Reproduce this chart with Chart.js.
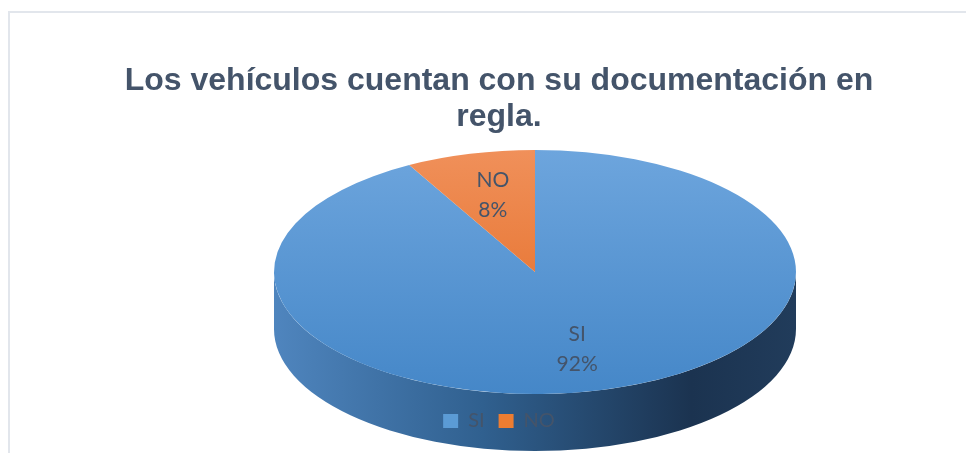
<!DOCTYPE html>
<html>
<head>
<meta charset="utf-8">
<script src="https://cdn.jsdelivr.net/npm/chart.js@4.4.1/dist/chart.umd.min.js"></script>
<style>
  html, body { margin: 0; background: #fff; }
  #frame { position: absolute; left: 8px; top: 11px; width: 958px; height: 460px;
           border-left: 2px solid #e2e6ec; border-top: 2px solid #e2e6ec; box-sizing: border-box; }
  canvas { position: absolute; left: 0; top: 0; }
</style>
</head>
<body>
<div id="frame"></div>
<canvas id="chart" width="966" height="453"></canvas>
<script>
const title = ['Los vehículos cuentan con su documentación en', 'regla.'];
const categories = ['SI', 'NO'];
const values = [92, 8];
const colors = ['#5b9bd5', '#ed7d31'];
const topShades = [['#6da5dd', '#4587c8'], ['#f0905a', '#e2671d']];
const textColor = '#44546a';

// the library draws a flat circle, we squash it into this ellipse and add a side wall
const view = { cx: 535, cy: 272, rx: 261, ry: 122, depth: 57 };

// parts of an arc that face the viewer (lower half of the ellipse)
function frontRanges(a0, a1) {
  const out = [];
  for (let k = -1; k <= 1; k++) {
    const base = k * 2 * Math.PI;
    const s = Math.max(a0, base), e = Math.min(a1, base + Math.PI);
    if (e > s) out.push([s, e]);
  }
  return out;
}

const tilt = {
  id: 'tilt',
  beforeDatasetDraw(chart, args) {
    const ctx = chart.ctx;
    const arcs = args.meta.data;
    const side = [
      ctx.createLinearGradient(view.cx - view.rx, 0, view.cx + view.rx, 0),
      ctx.createLinearGradient(view.cx - view.rx, 0, view.cx + view.rx, 0)
    ];
    side[0].addColorStop(0, '#4f85be');
    side[0].addColorStop(0.4, '#30608f');
    side[0].addColorStop(0.8, '#1b3350');
    side[0].addColorStop(1, '#213c5b');
    side[1].addColorStop(0, '#c9631f');
    side[1].addColorStop(1, '#7a3a10');
    arcs.forEach((arc, i) => {
      frontRanges(arc.startAngle, arc.endAngle).forEach(([s, e]) => {
        ctx.beginPath();
        ctx.ellipse(view.cx, view.cy, view.rx, view.ry, 0, s, e);
        ctx.ellipse(view.cx, view.cy + view.depth, view.rx, view.ry, 0, e, s, true);
        ctx.closePath();
        ctx.fillStyle = side[i];
        ctx.fill();
      });
    });
    const a = arcs[0];
    ctx.save();
    ctx.translate(view.cx, view.cy);
    ctx.scale(view.rx / a.outerRadius, view.ry / a.outerRadius);
    ctx.translate(-a.x, -a.y);
  },
  afterDatasetDraw(chart) {
    chart.ctx.restore();
  },
  afterDatasetsDraw(chart) {
    const ctx = chart.ctx;
    const total = values.reduce((s, v) => s + v, 0);
    ctx.save();
    ctx.font = '21px Lato';
    ctx.fillStyle = textColor;
    ctx.textAlign = 'center';
    ctx.textBaseline = 'middle';
    chart.getDatasetMeta(0).data.forEach((arc, i) => {
      const mid = (arc.startAngle + arc.endAngle) / 2;
      const x = view.cx + Math.cos(mid) * view.rx * 0.65;
      const y = view.cy + Math.sin(mid) * view.ry * 0.65;
      ctx.fillText(categories[i], x, y - 15);
      ctx.fillText(Math.round(values[i] / total * 100) + '%', x, y + 15);
    });
    ctx.restore();
  },
  afterDraw(chart) {
    // legend sits on top of the pie wall
    chart.legend.draw();
  }
};

new Chart(document.getElementById('chart'), {
  type: 'pie',
  data: {
    labels: categories,
    datasets: [{
      data: values,
      borderWidth: 0,
      backgroundColor(c) {
        const area = c.chart.chartArea;
        if (!area) return colors[c.dataIndex];
        const g = c.chart.ctx.createLinearGradient(0, area.top, 0, area.bottom);
        g.addColorStop(0, topShades[c.dataIndex][0]);
        g.addColorStop(1, topShades[c.dataIndex][1]);
        return g;
      }
    }]
  },
  options: {
    responsive: false,
    animation: false,
    events: [],
    layout: { padding: { left: 32, bottom: 12 } },
    plugins: {
      title: {
        display: true,
        text: title,
        color: textColor,
        font: { family: 'Liberation Sans', size: 32, weight: 'bold', lineHeight: 1.1 },
        padding: { top: 64, bottom: 6 }
      },
      legend: {
        position: 'bottom',
        labels: {
          boxWidth: 15,
          boxHeight: 14,
          padding: 14,
          color: textColor,
          font: { family: 'Lato', size: 20 },
          generateLabels: () => categories.map((c, i) => ({
            text: c, fillStyle: colors[i], strokeStyle: colors[i], lineWidth: 0,
            fontColor: textColor, hidden: false, index: i
          }))
        }
      },
      tooltip: { enabled: false }
    }
  },
  plugins: [tilt]
});
</script>
</body>
</html>
